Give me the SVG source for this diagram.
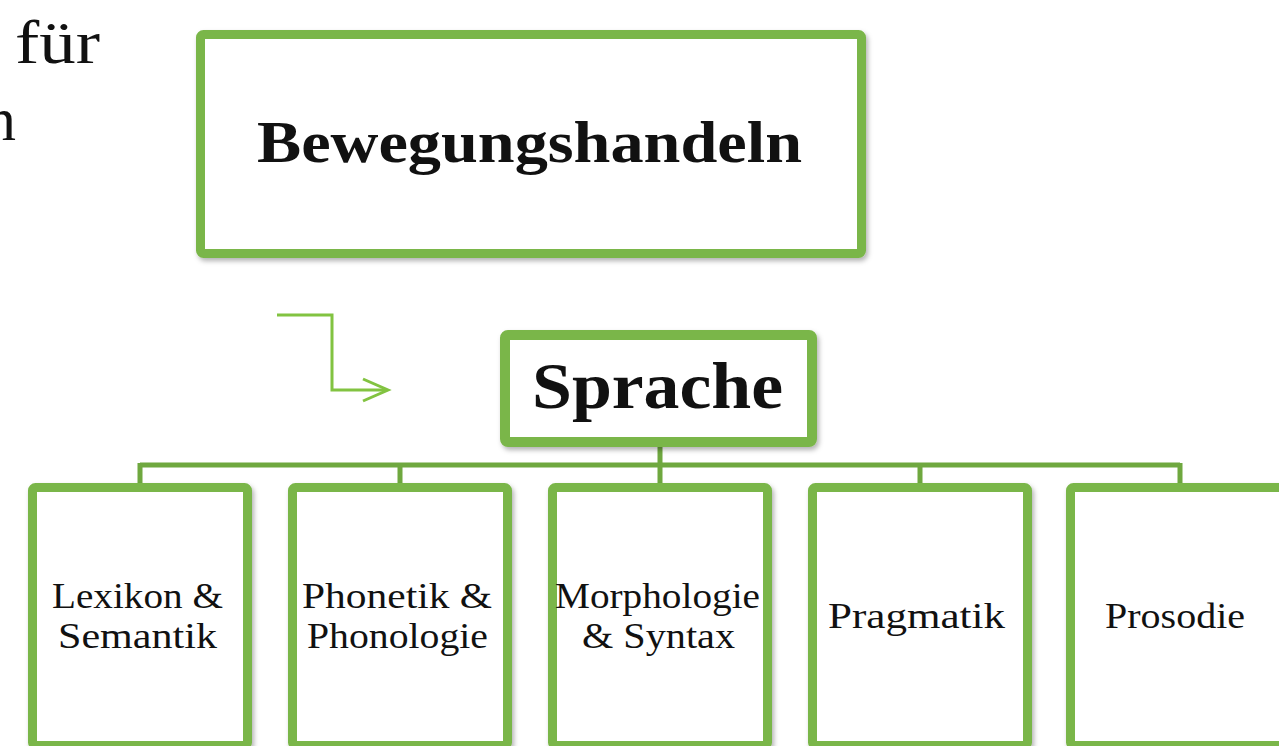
<svg xmlns="http://www.w3.org/2000/svg" width="1279" height="746" viewBox="0 0 1279 746">
  <defs>
    <filter id="sh" x="-10%" y="-10%" width="120%" height="130%">
      <feDropShadow dx="2" dy="3" stdDeviation="2.5" flood-color="#000" flood-opacity="0.3"/>
    </filter>
    <marker id="chev" markerWidth="12" markerHeight="12" refX="10" refY="6" orient="auto" markerUnits="userSpaceOnUse" viewBox="0 0 12 12">
      <path d="M0,0 L10,6 L0,12" fill="none" stroke="#82c341" stroke-width="1"/>
    </marker>
  </defs>
  <style>
    .box { fill: #ffffff; stroke: #7ab648; stroke-linejoin: round; filter: url(#sh); }
    .big { stroke-width: 9; }
    .child { stroke-width: 9; }
    .conn { fill: none; stroke: #6fa83f; stroke-width: 5; }
    .arrow { fill: none; stroke: #82c341; stroke-width: 3; }
    .title { font-family: "Liberation Serif", "DejaVu Serif", serif; font-weight: bold; fill: #111; }
    .lbl { font-family: "Liberation Serif", "DejaVu Serif", serif; font-size: 36px; fill: #111; }
    .bg { font-family: "Liberation Serif", "DejaVu Serif", serif; font-size: 62px; fill: #111; }
  </style>
  <rect width="1279" height="746" fill="#ffffff"/>

  <g id="background-text">
    <text class="bg" x="15" y="63" textLength="85" lengthAdjust="spacingAndGlyphs">für</text>
    <text class="bg" x="16" y="140" text-anchor="end">n</text>
  </g>

  <g id="connectors">
    <path class="arrow" d="M277,315 H332 V390 H387"/>
    <path class="arrow" d="M363,379 L388,390 L363,401"/>
    <path class="conn" d="M660,445 V465 M140,465 H1180 M140,463 V485 M400,463 V485 M660,463 V485 M920,463 V485 M1180,463 V485"/>
  </g>

  <g id="node-bewegungshandeln">
    <rect class="box big" x="200.5" y="34.5" width="661" height="219" rx="3"/>
    <text class="title" x="257" y="162" font-size="59" textLength="545" lengthAdjust="spacingAndGlyphs">Bewegungshandeln</text>
  </g>

  <g id="node-sprache">
    <rect class="box" x="505" y="335" width="307" height="107" rx="3" stroke-width="10"/>
    <text class="title" x="532" y="408" font-size="66" textLength="251" lengthAdjust="spacingAndGlyphs">Sprache</text>
  </g>

  <g id="node-lexikon">
    <rect class="box child" x="32.5" y="487.5" width="215" height="258" rx="3"/>
    <text class="lbl" x="52" y="608" textLength="171" lengthAdjust="spacingAndGlyphs">Lexikon &amp;</text>
    <text class="lbl" x="58" y="648" textLength="159" lengthAdjust="spacingAndGlyphs">Semantik</text>
  </g>

  <g id="node-phonetik">
    <rect class="box child" x="292.5" y="487.5" width="215" height="258" rx="3"/>
    <text class="lbl" x="302" y="608" textLength="190" lengthAdjust="spacingAndGlyphs">Phonetik &amp;</text>
    <text class="lbl" x="307" y="648" textLength="181" lengthAdjust="spacingAndGlyphs">Phonologie</text>
  </g>

  <g id="node-morphologie">
    <rect class="box child" x="552.5" y="487.5" width="215" height="258" rx="3"/>
    <text class="lbl" x="555" y="608" textLength="205" lengthAdjust="spacingAndGlyphs">Morphologie</text>
    <text class="lbl" x="582" y="648" textLength="153" lengthAdjust="spacingAndGlyphs">&amp; Syntax</text>
  </g>

  <g id="node-pragmatik">
    <rect class="box child" x="812.5" y="487.5" width="215" height="258" rx="3"/>
    <text class="lbl" x="828" y="628" textLength="177" lengthAdjust="spacingAndGlyphs">Pragmatik</text>
  </g>

  <g id="node-prosodie">
    <rect class="box child" x="1070.5" y="487.5" width="215" height="258" rx="3"/>
    <text class="lbl" x="1105" y="628" textLength="140" lengthAdjust="spacingAndGlyphs">Prosodie</text>
  </g>
</svg>
